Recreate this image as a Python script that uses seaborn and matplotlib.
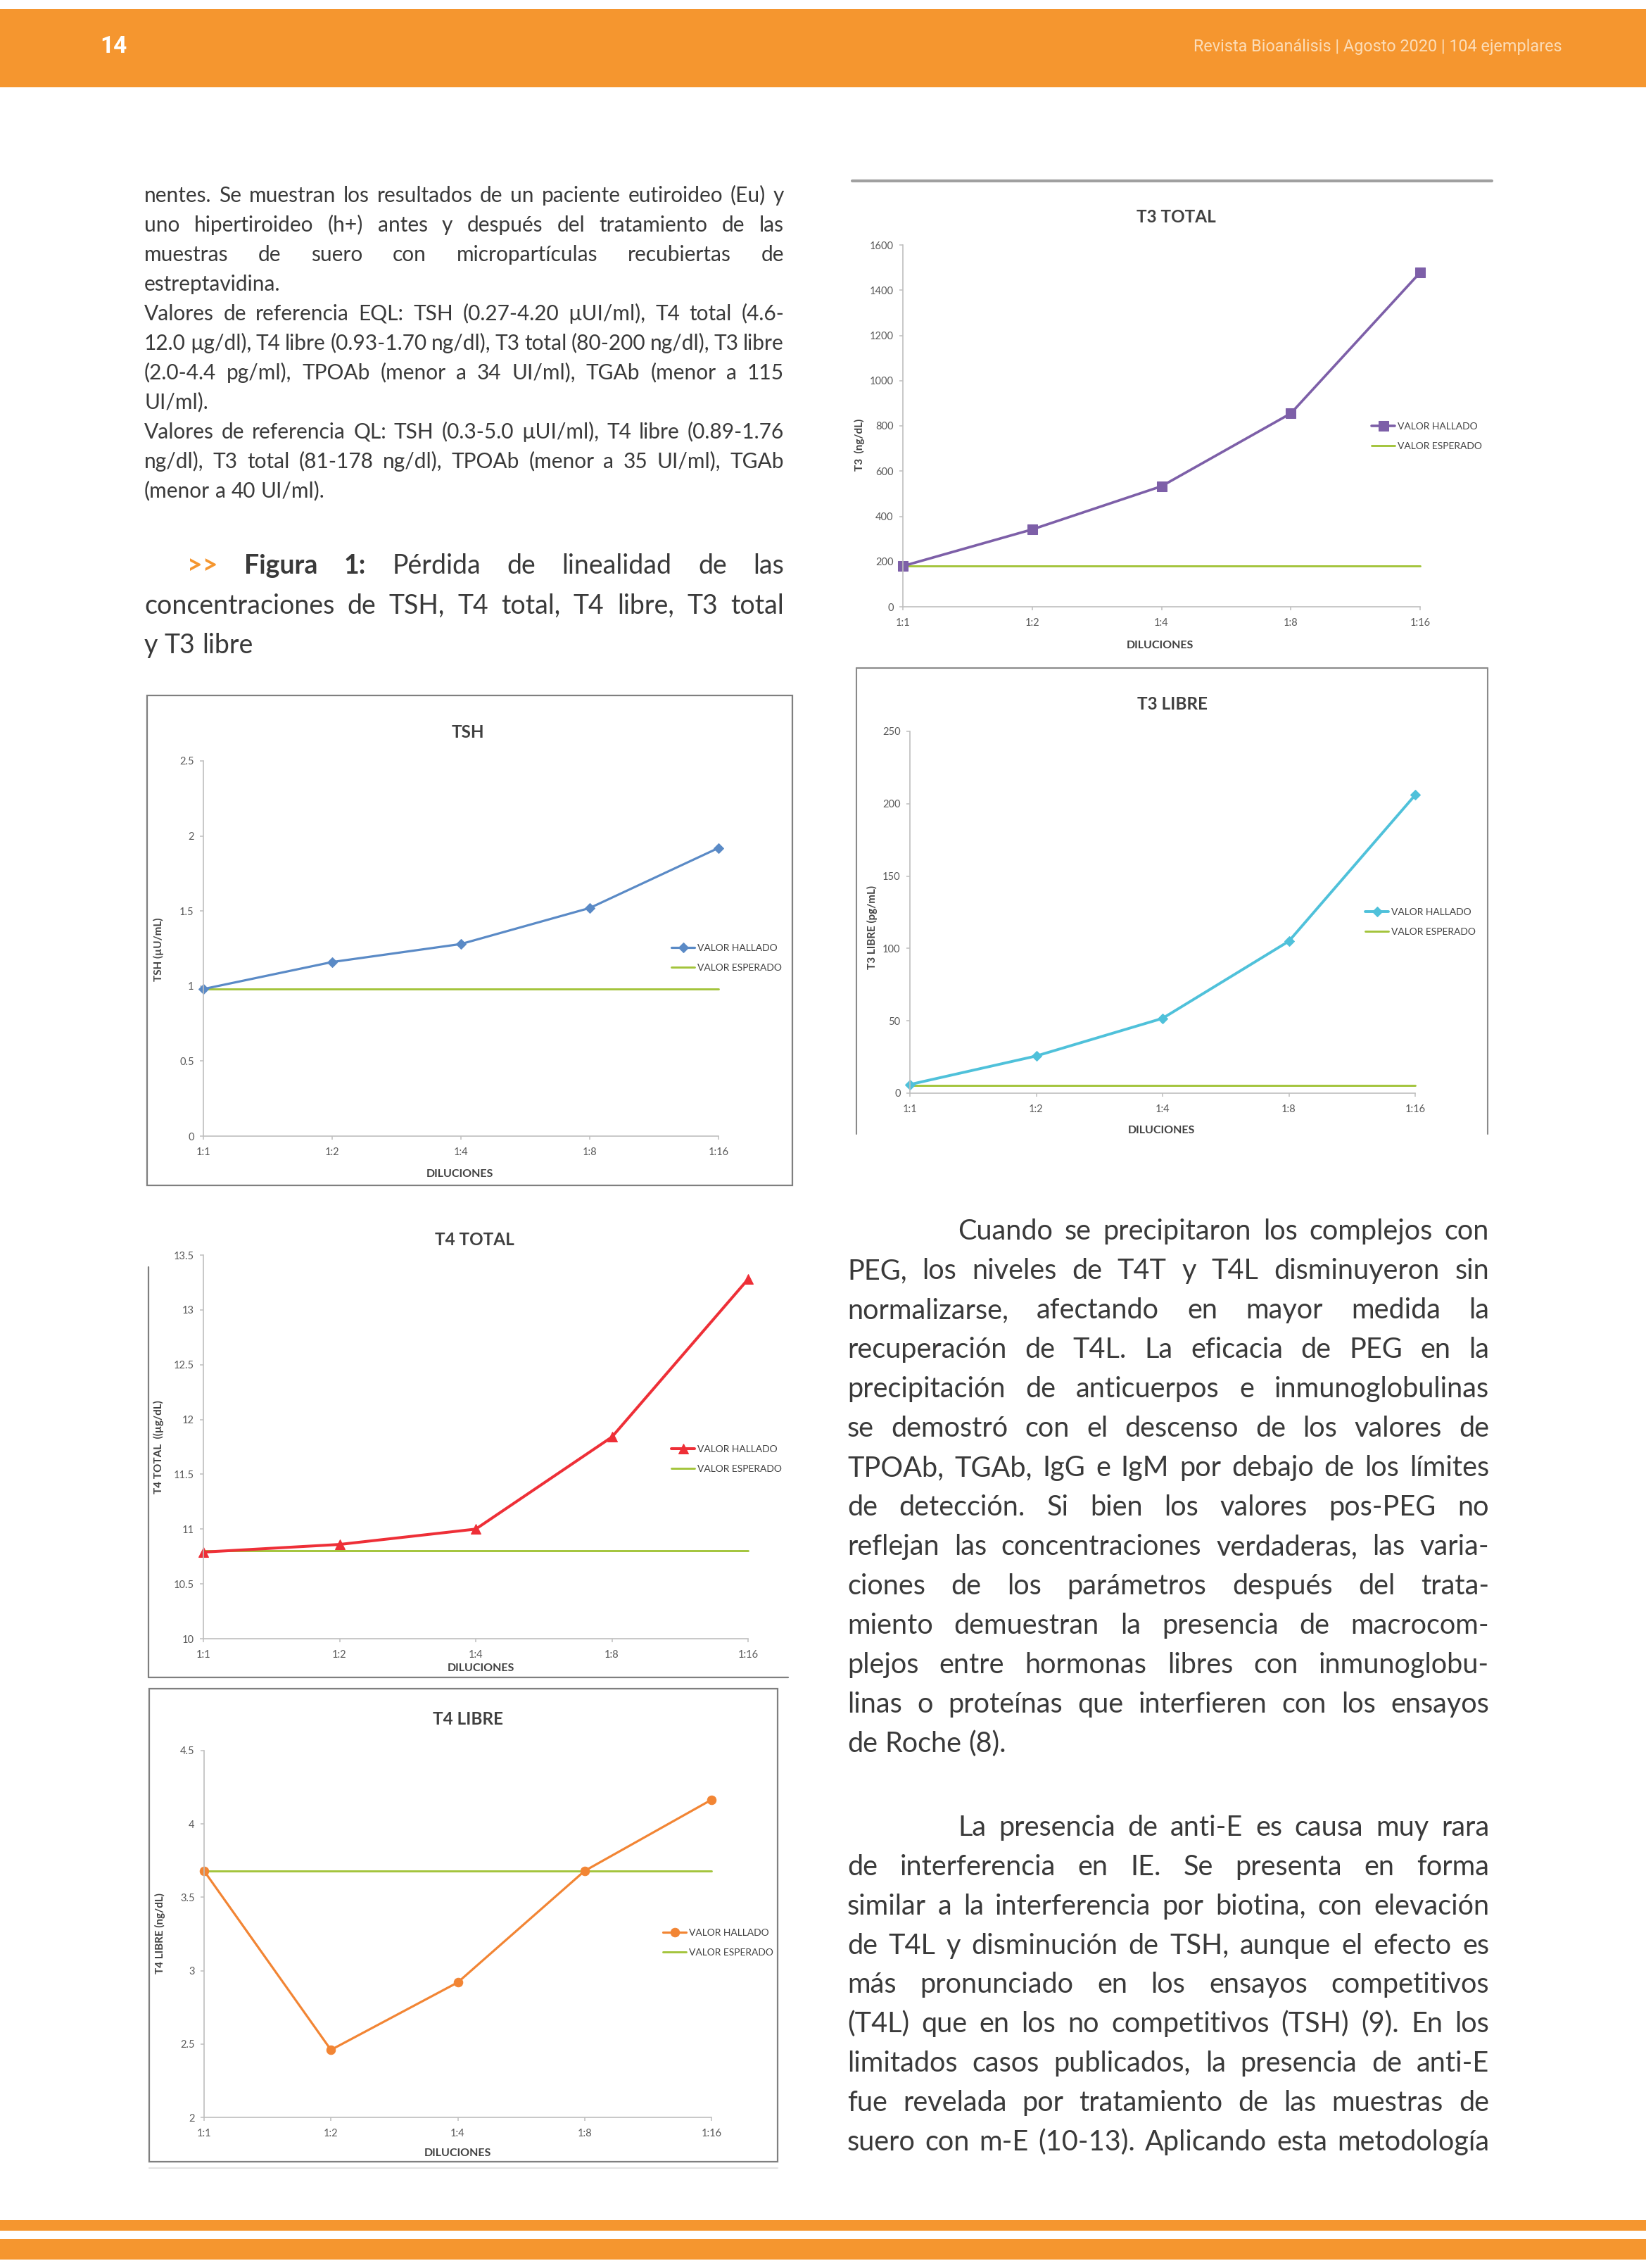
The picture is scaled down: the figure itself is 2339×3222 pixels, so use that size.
import numpy as np
import pandas as pd
import seaborn as sns
import matplotlib.pyplot as plt
from matplotlib.lines import Line2D
from matplotlib.patches import Rectangle

# valores
diluciones = ["1:1", "1:2", "1:4", "1:8", "1:16"]

tsh_hallado = [0.98, 1.16, 1.28, 1.52, 1.92]
tsh_esperado = [0.98, 0.98, 0.98, 0.98, 0.98]

t3t_hallado = [180, 342, 533, 855, 1478]
t3t_esperado = [180, 180, 180, 180, 180]

t3l_hallado = [6, 25.7, 51.7, 105, 206]
t3l_esperado = [5.5, 5.5, 5.5, 5.5, 5.5]

t4t_hallado = [10.79, 10.86, 11.0, 11.84, 13.28]
t4t_esperado = [10.8, 10.8, 10.8, 10.8, 10.8]

t4l_hallado = [3.68, 2.46, 2.92, 3.68, 4.165]
t4l_esperado = [3.68, 3.68, 3.68, 3.68, 3.68]

texto_izq = [
    ("nentes. Se muestran los resultados de un paciente eutiroideo (Eu) y", True),
    ("uno hipertiroideo (h+) antes y después del tratamiento de las", True),
    ("muestras de suero con micropartículas recubiertas de", True),
    ("estreptavidina.", False),
    ("Valores de referencia EQL: TSH (0.27-4.20 µUI/ml), T4 total (4.6-", True),
    ("12.0 µg/dl), T4 libre (0.93-1.70 ng/dl), T3 total (80-200 ng/dl), T3 libre", True),
    ("(2.0-4.4 pg/ml), TPOAb (menor a 34 UI/ml), TGAb (menor a 115", True),
    ("UI/ml).", False),
    ("Valores de referencia QL: TSH (0.3-5.0 µUI/ml), T4 libre (0.89-1.76", True),
    ("ng/dl), T3 total (81-178 ng/dl), TPOAb (menor a 35 UI/ml), TGAb", True),
    ("(menor a 40 UI/ml).", False),
]

texto_der1 = [
    "Cuando se precipitaron los complejos con",
    "PEG, los niveles de T4T y T4L disminuyeron sin",
    "normalizarse, afectando en mayor medida la",
    "recuperación de T4L.  La eficacia de PEG en la",
    "precipitación de anticuerpos e inmunoglobulinas",
    "se demostró con el descenso de los valores de",
    "TPOAb, TGAb, IgG e IgM por debajo de los límites",
    "de detección. Si bien los valores pos-PEG no",
    "reflejan las concentraciones verdaderas, las varia-",
    "ciones de los parámetros después del trata-",
    "miento demuestran la presencia de macrocom-",
    "plejos entre hormonas libres con inmunoglobu-",
    "linas o proteínas que interfieren con los ensayos",
    "de Roche (8).",
]

texto_der2 = [
    "La presencia de anti-E es causa muy rara",
    "de interferencia en IE. Se presenta en forma",
    "similar a la interferencia por biotina, con elevación",
    "de T4L y disminución de TSH, aunque el efecto es",
    "más pronunciado en los ensayos competitivos",
    "(T4L) que en los no competitivos (TSH) (9). En los",
    "limitados casos publicados, la presencia de anti-E",
    "fue revelada por tratamiento de las muestras de",
    "suero con m-E (10-13). Aplicando esta metodología",
]

W, H = 2339, 3222
NARANJA = "#F5962F"
TEXTO = "#3A3A3A"
VERDE = "#A3C43B"
EJE = "#BFBFBF"

sns.set_style("white")
plt.rcParams["font.family"] = ["Lato", "DejaVu Sans"]

fig = plt.figure(figsize=(W / 100, H / 100), dpi=100)
renderer = fig.canvas.get_renderer()


def fx(px):
    return px / W


def fy(py):
    return 1 - py / H


def hline(x0, x1, y, color, lw):
    fig.add_artist(Line2D([fx(x0), fx(x1)], [fy(y), fy(y)], color=color, lw=lw))


def vline(x, y0, y1, color, lw):
    fig.add_artist(Line2D([fx(x), fx(x)], [fy(y0), fy(y1)], color=color, lw=lw))


def ancho(s, size, weight="normal"):
    t = fig.text(0, 0, s, fontsize=size, fontweight=weight)
    w = t.get_window_extent(renderer).width
    t.remove()
    return w


def linea(palabras, x0, x1, yc, size, justificar):
    # palabras: lista de (texto, peso, color)
    esp = ancho("a a", size) - ancho("aa", size)
    anchos = [ancho(p, size, wt) for p, wt, c in palabras]
    n = len(palabras) - 1
    gap = esp
    if justificar and n > 0:
        gap = (x1 - x0 - sum(anchos)) / n
        if gap < 0.55 * esp:
            size = size * (x1 - x0 - 0.55 * esp * n) / sum(anchos)
            anchos = [ancho(p, size, wt) for p, wt, c in palabras]
            gap = (x1 - x0 - sum(anchos)) / n
    base = yc + 0.26 * size * 100 / 72
    x = x0
    for (p, wt, c), w in zip(palabras, anchos):
        fig.text(fx(x), fy(base), p, fontsize=size, fontweight=wt, color=c,
                 ha="left", va="baseline")
        x += w + gap


def parrafo(lineas, x0, x1, y0, paso, size, sangria=None, ultima_libre=True):
    for i, s in enumerate(lineas):
        xs = sangria if (i == 0 and sangria) else x0
        just = not (ultima_libre and i == len(lineas) - 1)
        linea([(p, "normal", TEXTO) for p in s.split()], xs, x1, y0 + i * paso, size, just)


# cabecera y pie
fig.add_artist(Rectangle((0, fy(124)), 1, (124 - 13) / H, color=NARANJA, lw=0))
fig.text(fx(161), fy(66), "14", color="white", fontsize=24, fontweight="bold",
         family=["Roboto", "DejaVu Sans"], ha="center", va="center")
fig.text(fx(2220), fy(66), "Revista Bioanálisis | Agosto 2020 | 104 ejemplares",
         color="#FCDDB8", fontsize=16.8, family=["Roboto", "DejaVu Sans"],
         ha="right", va="center")
fig.add_artist(Rectangle((0, fy(3169)), 1, 15 / H, color=NARANJA, lw=0))
fig.add_artist(Rectangle((0, fy(3210)), 1, 29 / H, color=NARANJA, lw=0))

# textos
for i, (s, just) in enumerate(texto_izq):
    linea([(p, "normal", TEXTO) for p in s.split()], 205, 1114, 279 + i * 42, 21.5, just)

cap1 = [(">>", "bold", NARANJA), ("Figura", "bold", TEXTO), ("1:", "bold", TEXTO)]
cap1 += [(p, "normal", TEXTO) for p in "Pérdida de linealidad de las".split()]
linea(cap1, 266, 1114, 805, 27, True)
linea([(p, "normal", TEXTO) for p in "concentraciones de TSH, T4 total, T4 libre, T3 total".split()],
      205, 1114, 862, 27, True)
linea([(p, "normal", TEXTO) for p in "y T3 libre".split()], 205, 1114, 918, 27, False)

parrafo(texto_der1, 1204, 2116, 1751, 56, 28.5, sangria=1361)
parrafo(texto_der2, 1204, 2116, 2598, 55.8, 28.5, sangria=1361, ultima_libre=False)

# marcos de los graficos
hline(1211, 2120, 257, "#A0A0A0", 3)
vline(1217, 949, 1611, "#8A8A8A", 1.5)
vline(2114, 949, 1611, "#8A8A8A", 1.5)
hline(1217, 2114, 949, "#8A8A8A", 1.5)
fig.add_artist(Rectangle((fx(209), fy(1684)), (1126 - 209) / W, (1684 - 988) / H,
                         fill=False, ec="#7F7F7F", lw=1.6))
vline(211, 1800, 2383, "#7F7F7F", 1.6)
hline(211, 1120, 2383, "#7F7F7F", 1.6)
fig.add_artist(Rectangle((fx(212), fy(3071)), (1105 - 212) / W, (3071 - 2399) / H,
                         fill=False, ec="#7F7F7F", lw=1.6))
hline(212, 1105, 3080, "#E3E3E3", 1.5)


def grafico(hallado, esperado, caja, ylim, yticks, yticklabels, color, marker, ms, lw,
            titulo, titulo_xy, ylabel, ylabel_x, leyenda_x, leyenda_y, xlabel_xy):
    left, top, right, bottom = caja
    ax = fig.add_axes([fx(left), fy(bottom), (right - left) / W, (bottom - top) / H])
    pos = np.arange(len(diluciones))
    df_h = pd.DataFrame({"dilucion": pos, "valor": hallado})
    df_e = pd.DataFrame({"dilucion": pos, "valor": esperado})
    sns.lineplot(data=df_e, x="dilucion", y="valor", ax=ax, color=VERDE, lw=2.1,
                 label="VALOR ESPERADO", clip_on=False)
    sns.lineplot(data=df_h, x="dilucion", y="valor", ax=ax, color=color, lw=lw,
                 marker=marker, markersize=ms, markeredgecolor=color,
                 label="VALOR HALLADO", clip_on=False)
    ax.set_xlim(0, len(diluciones) - 1)
    ax.set_ylim(*ylim)
    ax.set_xticks(pos)
    ax.set_xticklabels(diluciones)
    ax.set_yticks(yticks)
    ax.set_yticklabels(yticklabels)
    for s in ["top", "right"]:
        ax.spines[s].set_visible(False)
    for s in ["left", "bottom"]:
        ax.spines[s].set_color(EJE)
        ax.spines[s].set_linewidth(1.2)
    ax.tick_params(axis="both", direction="out", length=3.6, width=1.1, color=EJE,
                   labelcolor="#595959", labelsize=10.5)
    ax.tick_params(axis="x", pad=8, bottom=True)
    ax.tick_params(axis="y", pad=6, left=True)
    ax.set_xlabel("DILUCIONES", fontsize=11.5, fontweight="bold", color="#404040")
    ax.xaxis.set_label_coords((xlabel_xy[0] - left) / (right - left),
                              (bottom - xlabel_xy[1]) / (bottom - top))
    ax.xaxis.label.set_va("center")
    ax.set_ylabel(ylabel, fontsize=11, fontweight="bold", color="#404040")
    ax.yaxis.set_label_coords((ylabel_x[0] - left) / (right - left),
                              (bottom - ylabel_x[1]) / (bottom - top))
    ax.yaxis.label.set_va("center")
    ax.text((titulo_xy[0] - left) / (right - left), (bottom - titulo_xy[1]) / (bottom - top),
            titulo, transform=ax.transAxes, ha="center", va="center", fontsize=17.5,
            fontweight="bold", color="#404040")
    handles, labels = ax.get_legend_handles_labels()
    ax.legend(handles[::-1], labels[::-1], loc="center left",
              bbox_to_anchor=(fx(leyenda_x), fy(leyenda_y)), bbox_transform=fig.transFigure,
              frameon=False, fontsize=10, borderpad=0, borderaxespad=0, handlelength=2.4,
              handletextpad=0.25, labelspacing=1.2, labelcolor="#404040")
    return ax


grafico(t3t_hallado, t3t_esperado, (1283, 348, 2018, 862), (0, 1600),
        [0, 200, 400, 600, 800, 1000, 1200, 1400, 1600],
        ["0", "200", "400", "600", "800", "1000", "1200", "1400", "1600"],
        "#7D5FA8", "s", 10.5, 2.6, "T3 TOTAL", (1671, 309), "T3  (ng/dL)", (1221, 632),
        1949, 620, (1648, 917))

grafico(t3l_hallado, t3l_esperado, (1293, 1039, 2011, 1553), (0, 250),
        [0, 50, 100, 150, 200, 250], ["0", "50", "100", "150", "200", "250"],
        "#4FC1DA", "D", 7, 2.8, "T3 LIBRE", (1666, 1001), "T3 LIBRE (pg/mL)", (1239, 1317),
        1940, 1310, (1650, 1606))

grafico(tsh_hallado, tsh_esperado, (289, 1081, 1021, 1614), (0, 2.5),
        [0, 0.5, 1, 1.5, 2, 2.5], ["0", "0.5", "1", "1.5", "2", "2.5"],
        "#5A8AC6", "D", 7, 2.3, "TSH", (665, 1040), "TSH (µU/mL)", (225, 1349),
        954, 1361, (653, 1668))

grafico(t4t_hallado, t4t_esperado, (289, 1783, 1063, 2328), (10, 13.5),
        [10, 10.5, 11, 11.5, 12, 12.5, 13, 13.5],
        ["10", "10.5", "11", "11.5", "12", "12.5", "13", "13.5"],
        "#EE2F37", "^", 10, 2.9, "T4 TOTAL", (674, 1761), "T4 TOTAL  ((µg/dL)", (225, 2056),
        954, 2073, (683, 2370))

grafico(t4l_hallado, t4l_esperado, (290, 2487, 1011, 3008), (2, 4.5),
        [2, 2.5, 3, 3.5, 4, 4.5], ["2", "2.5", "3", "3.5", "4", "4.5"],
        "#F28534", "o", 9, 2.3, "T4 LIBRE", (665, 2442), "T4 LIBRE (ng/dL)", (227, 2747),
        942, 2760, (650, 3059))

fig.savefig("out.png", dpi=100)
